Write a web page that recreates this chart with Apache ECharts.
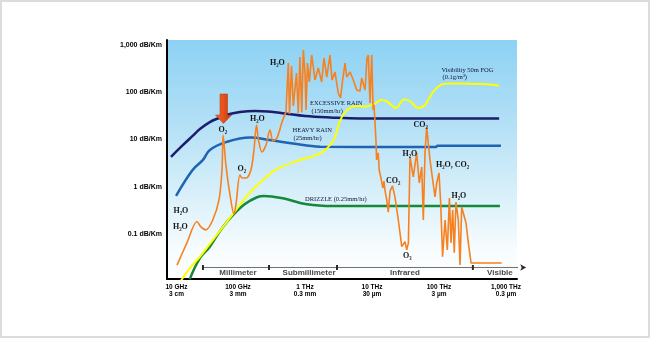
<!DOCTYPE html>
<html><head><meta charset="utf-8">
<script src="https://cdn.jsdelivr.net/npm/echarts@6/dist/echarts.min.js"></script>
<style>html,body{margin:0;padding:0;background:#fff}#c{width:650px;height:338px}</style>
</head><body><div id="c"></div>
<script>
// ---- data: frequency in GHz, attenuation in dB/km ----
const excessiveRain = [[10,4.3],[14.6,7.3],[21,11.9],[27,16.7],[38,23.4],[54,29.2],[66,33],[107,38],[180,40],[280,39],[500,35.5],[1000,31.4],[2360,29.2],[6600,27.8],[52000,27.8],[790000,27.8]];
const heavyRain = [[11.9,0.64],[21,2.26],[30,3.7],[38,6.0],[68,8.9],[151,11],[300,9.75],[660,8.2],[1680,7.05],[26000,6.95],[90000,6.95],[95000,7.4],[840000,7.4]];
const drizzle = [[19,0.011],[27,0.031],[38,0.054],[58,0.134],[84,0.25],[127,0.43],[192,0.60],[244,0.64],[470,0.57],[1070,0.425],[2620,0.39],[810000,0.39]];
const fog = [[13.6,0.0096],[19.2,0.019],[27,0.033],[41,0.071],[60,0.143],[93,0.32],[151,0.755],[236,1.39],[382,2.38],[841,3.68],[1680,5.06],[2620,9.3],[3330,24.7],[4240,42],[5970,51],[8130,50],[10700,56],[13600,68.5],[16700,63.7],[22800,46.5],[30000,70.3],[36900,65.3],[48600,46.5],[61800,53.7],[81300,101],[115000,150],[162000,153],[520000,147],[787000,138]];
const gasLow = [[12.3,0.022],[17.3,0.065],[24.4,0.184],[28,0.141],[33,0.122],[42,0.198],[52,0.525],[57.7,2.26],[60,12.4],[66,2.88],[76,0.67],[87,0.265],[93,0.41],[107,1.77],[115,1.53],[132,1.53],[156,2.26],[173,6.0],[189,20.3],[202,9.75],[228,5.43],[262,7.66],[300,15.9],[333,9.3],[382,10.8],[454,23.4],[520,38]];
const gasHigh = [[520,38],[564,416],[587,34.7],[629,359],[669,51],[746,255],[794,36.4],[841,557],[893,38],[944,783],[1000,255],[1035,42],[1090,416],[1160,165],[1260,614],[1410,182],[1580,326],[1770,165],[1920,531],[2110,210],[2360,614],[2530,182],[2800,268],[3140,96],[3390,75.5],[3650,182],[3960,416],[4190,210],[4700,268],[5260,182],[5910,112],[6620,106],[7020,200],[7870,112],[8420,531],[8810,614],[9340,59],[9900,614],[10200,557],[10400,42],[10700,54],[11100,22.3],[11500,8.4],[11700,3.7],[12400,5.2],[12800,2.26],[13500,1.61],[14500,0.94],[15100,1.32],[15600,0.85],[16600,0.525],[17500,0.29],[18600,0.81],[20200,1.04],[22000,0.61],[24700,0.198],[27800,0.054],[31100,0.069],[33000,0.046],[34900,0.064],[36900,4.27],[41300,1.61],[46400,5.2],[50800,1.2],[55200,2.62],[58300,0.198],[61800,5.2],[65500,18.4],[69200,8.4],[73400,3.7],[80500,1.39],[87100,0.61],[92400,1.2],[100000,1.95],[106000,0.45],[113000,0.033],[123000,0.198],[133000,0.046],[143000,0.58],[151000,0.065],[160000,0.32],[169000,0.04],[179000,0.475],[194000,0.198],[206000,0.022],[218000,0.373],[231000,0.373],[253000,0.171],[274000,0.065],[301000,0.0243],[325000,0.0243],[863000,0.0243]];

const xTickValues = [10, 100, 1000, 10000, 100000, 1000000];
const xTickLabels = ['10 GHz\n3 cm', '100 GHz\n3 mm', '1 THz\n0.3 mm', '10 THz\n30 µm', '100 THz\n3 µm', '1,000 THz\n0.3 µm'];
const yTickValues = [0.1, 1, 10, 100, 1000];
const yTickLabels = ['0.1 dB/Km', '1 dB/Km', '10 dB/Km', '100 dB/Km', '1,000 dB/Km'];
const bandEdges = [30, 290, 3000, 320000, 2000000];
const bandCenters = [100, 1150, 31000, 810000];
const bandNames = ['Millimeter', 'Submillimeter', 'Infrared', 'Visible'];

// ---- layout ----
const L = Math.log10;
const toXY = a => a.map(p => [L(p[0]), L(p[1])]);
const bandLevel = -1.709;
const X_MIN = 0.9403, X_MAX = 6.164, Y_MIN = -1.9524, Y_MAX = 3.1058;

const annotations = [
  {t:'H₂O', x:270, y:63, k:'chem'},
  {t:'O₂', x:218.5, y:130, k:'chem'},
  {t:'H₂O', x:250, y:119, k:'chem'},
  {t:'O₂', x:237.5, y:169, k:'chem'},
  {t:'H₂O', x:173.5, y:210.5, k:'chem'},
  {t:'H₂O', x:173, y:227, k:'chem'},
  {t:'EXCESSIVE RAIN', x:310, y:103, k:'note'},
  {t:'(150mm/hr)', x:311.5, y:110.8, k:'note'},
  {t:'HEAVY RAIN', x:292.5, y:130, k:'note'},
  {t:'(25mm/hr)', x:293.5, y:137.8, k:'note'},
  {t:'DRIZZLE (0.25mm/hr)', x:305, y:199, k:'note'},
  {t:'Visibility 50m FOG', x:441.5, y:70, k:'note'},
  {t:'(0.1g/m³)', x:442.5, y:77.5, k:'note'},
  {t:'CO₂', x:413.5, y:125.3, k:'chem'},
  {t:'H₂O', x:402.5, y:153.7, k:'chem'},
  {t:'H₂O, CO₂', x:436, y:165, k:'chem'},
  {t:'CO₂', x:386, y:181, k:'chem'},
  {t:'O₃', x:403, y:256, k:'chem'},
  {t:'H₂O', x:451.5, y:196.3, k:'chem'}
];

const fonts = {
  chem: 'bold 8px "Liberation Serif", "DejaVu Serif", serif',
  note: '6.5px "Liberation Serif", "DejaVu Serif", serif'
};

const graphics = [
  {type:'rect', shape:{x:1, y:1, width:648, height:336}, style:{fill:'none', stroke:'#dcdcdc', lineWidth:2}, z:100, silent:true},
  {type:'polygon', shape:{points:[[220,94],[227.5,94],[227.5,115],[231.5,115],[223.5,123.5],[215.5,115],[220,115]]},
    style:{fill:new echarts.graphic.LinearGradient(0,0,1,0,[{offset:0,color:'#f36a2c'},{offset:0.5,color:'#e9501c'},{offset:1,color:'#b63a12'}]), stroke:'#a8340f', lineWidth:0.5}, z:100, silent:true}
].concat(annotations.map(a => ({
  type:'text', x:a.x, y:a.y, z:100, silent:true,
  style:{text:a.t, font:fonts[a.k], fill: a.k === 'chem' ? '#151515' : '#15153a', align:'left', verticalAlign:'middle', textAlign:'left', textVerticalAlign:'middle'}
})));

const chart = echarts.init(document.getElementById('c'), null, {renderer:'canvas'});
const lineSeries = (data, color, width, smooth) => ({
  type:'line', data: toXY(data), symbol:'none', smooth: smooth, silent:true,
  lineStyle:{color: color, width: width}, z:3
});

chart.setOption({
  animation:false,
  backgroundColor:'#ffffff',
  grid:{left:167, top:40, width:350, height:239, show:true, borderWidth:0,
    backgroundColor:new echarts.graphic.LinearGradient(0,0,0,1,[
      {offset:0,color:'#8dd2f4'},{offset:0.35,color:'#b3e0f6'},{offset:0.65,color:'#d9f0fa'},{offset:0.88,color:'#f7fcfe'},{offset:1,color:'#ffffff'}])},
  xAxis:{type:'value', min:X_MIN, max:X_MAX,
    axisLine:{show:true, onZero:false, lineStyle:{color:'#000', width:2}},
    axisTick:{show:false}, splitLine:{show:false},
    axisLabel:{customValues: xTickValues.map(L), margin:4,
      formatter: v => {
        const i = xTickValues.findIndex(t => Math.abs(L(t) - v) < 1e-6);
        const parts = xTickLabels[i].split('\n');
        return i === 0 ? '{p|' + parts[0] + '}\n{p|' + parts[1] + '}' : xTickLabels[i];
      },
      rich:{p:{padding:[0,0,0,11], fontSize:6.5, fontWeight:'bold', fontFamily:'"Liberation Sans", Arial, sans-serif', color:'#000', lineHeight:7.5}},
      fontSize:6.5, fontWeight:'bold', fontFamily:'"Liberation Sans", Arial, sans-serif', color:'#000', lineHeight:7.5}},
  yAxis:{type:'value', min:Y_MIN, max:Y_MAX,
    axisLine:{show:true, onZero:false, lineStyle:{color:'#000', width:2}},
    axisTick:{show:false}, splitLine:{show:false},
    axisLabel:{customValues: yTickValues.map(L), margin:5,
      formatter: v => yTickLabels[yTickValues.findIndex(t => Math.abs(L(t) - v) < 1e-6)],
      fontSize:7, fontWeight:'bold', fontFamily:'"Liberation Sans", Arial, sans-serif', color:'#000'}},
  series:[
    lineSeries(excessiveRain, '#1c1d6e', 2.5, 0.4),
    lineSeries(heavyRain, '#1f63b3', 2.5, 0.4),
    lineSeries(drizzle, '#15883a', 2.5, 0.4),
    lineSeries(fog, '#ffff00', 2, 0.35),
    lineSeries(gasLow, '#f7801f', 1.6, 0.3),
    lineSeries(gasHigh, '#f7801f', 1.6, false),
    {type:'line', silent:true, clip:false, z:4,
      data: bandEdges.map((f, i) => i === bandEdges.length - 1
        ? {value:[L(f), bandLevel], symbol:'arrow', symbolRotate:-90, symbolSize:[5,6]}
        : [L(f), bandLevel]),
      symbol:'rect', symbolSize:[2,5], showSymbol:true,
      lineStyle:{color:'#707070', width:1}, itemStyle:{color:'#2a2a2a'}},
    {type:'scatter', silent:true, clip:false, z:4,
      data: bandCenters.map(f => [L(f), bandLevel]),
      symbolSize:1, itemStyle:{color:'transparent'},
      label:{show:true, position:'inside', offset:[0,5],
        formatter: p => bandNames[p.dataIndex],
        fontSize:8, fontWeight:'bold', fontFamily:'"Liberation Sans", Arial, sans-serif', color:'#111'}}
  ],
  graphic: graphics
});
</script></body></html>
